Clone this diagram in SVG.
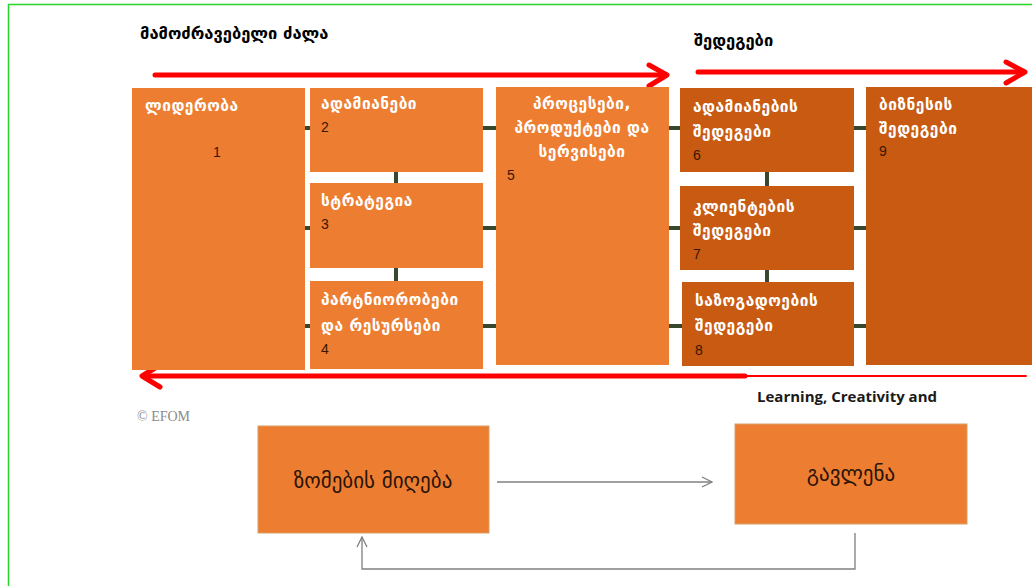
<svg xmlns="http://www.w3.org/2000/svg" width="1032" height="586" viewBox="0 0 1032 586">
<defs>
<marker id="grayhead" viewBox="0 0 12 12" refX="11" refY="6" markerWidth="12" markerHeight="12" markerUnits="userSpaceOnUse" orient="auto">
<path d="M1,1 L11,6 L1,11" fill="none" stroke="#7f7f7f" stroke-width="1.3"/>
</marker>
</defs>
<style>
.lt{fill:#ED7D31}
.dk{fill:#C85A12}
.wt{font-family:"DejaVu Sans",sans-serif;font-weight:bold;font-size:15.5px;letter-spacing:0.5px;fill:#ffffff}
.num{font-family:"Liberation Sans",Arial,sans-serif;font-size:14px;fill:#3a1600}
.hd{font-family:"DejaVu Sans",sans-serif;font-weight:bold;font-size:16.5px;fill:#000}
.con{stroke:#37492c;stroke-width:4;fill:none}
.red{stroke:#ff0000;fill:none;stroke-linecap:round;stroke-linejoin:round}
.big{font-family:"DejaVu Sans",sans-serif;font-size:21px;fill:#2b1408;text-anchor:middle}
.gl{stroke:#808080;stroke-width:1.3;fill:none}
</style>
<rect width="1032" height="586" fill="#ffffff"/>
<path d="M8.5,586 L8.5,4.5 L1032,4.5" fill="none" stroke="#2ad42a" stroke-width="1.5"/>

<text class="hd" x="140" y="39">მამოძრავებელი ძალა</text>
<text class="hd" x="694" y="46">შედეგები</text>

<g id="connectors">
<line class="con" x1="305" y1="128" x2="310" y2="128"/>
<line class="con" x1="305" y1="228" x2="310" y2="228"/>
<line class="con" x1="305" y1="326" x2="310" y2="326"/>
<line class="con" x1="396" y1="172" x2="396" y2="183"/>
<line class="con" x1="396" y1="268" x2="396" y2="281"/>
<line class="con" x1="483" y1="128" x2="496" y2="128"/>
<line class="con" x1="483" y1="228" x2="496" y2="228"/>
<line class="con" x1="483" y1="326" x2="496" y2="326"/>
<line class="con" x1="669" y1="128" x2="680" y2="128"/>
<line class="con" x1="669" y1="228" x2="680" y2="228"/>
<line class="con" x1="669" y1="326" x2="682" y2="326"/>
<line class="con" x1="767" y1="172" x2="767" y2="186"/>
<line class="con" x1="767" y1="270" x2="767" y2="282"/>
<line class="con" x1="854" y1="128" x2="866" y2="128"/>
<line class="con" x1="854" y1="228" x2="866" y2="228"/>
<line class="con" x1="854" y1="326" x2="866" y2="326"/>
<line class="gl" x1="497" y1="482" x2="712" y2="482" marker-end="url(#grayhead)"/>
<path class="gl" d="M855,533 L855,569 L362,569 L362,537" marker-end="url(#grayhead)"/>
</g>

<g id="arrows">
<line class="red" x1="155" y1="75" x2="666" y2="75" stroke-width="5"/>
<path class="red" d="M649,65 L667,75 L649,86" stroke-width="5"/>
<line class="red" x1="698" y1="72" x2="1024" y2="72" stroke-width="5"/>
<path class="red" d="M1006,62 L1025,72 L1006,83" stroke-width="5"/>
<line class="red" x1="745" y1="376" x2="1026" y2="376" stroke-width="2"/>
<line class="red" x1="143" y1="376" x2="745" y2="376" stroke-width="5"/>
<path class="red" d="M160,365 L142,376 L160,387" stroke-width="5"/>
</g>

<g id="n1"><rect class="lt" x="132" y="88" width="173" height="282"/>
<text class="wt" x="145" y="111">ლიდერობა</text><text class="num" x="213" y="157">1</text></g>
<g id="n2"><rect class="lt" x="310" y="88" width="173" height="84"/>
<text class="wt" x="321" y="109">ადამიანები</text><text class="num" x="321" y="132">2</text></g>
<g id="n3"><rect class="lt" x="310" y="183" width="173" height="85"/>
<text class="wt" x="321" y="206">სტრატეგია</text><text class="num" x="321" y="229">3</text></g>
<g id="n4"><rect class="lt" x="310" y="281" width="173" height="88"/>
<text class="wt" x="321" y="305">პარტნიორობები</text><text class="wt" x="321" y="331">და რესურსები</text><text class="num" x="321" y="354">4</text></g>
<g id="n5"><rect class="lt" x="496" y="87" width="173" height="278"/>
<text class="wt" x="582" y="109" text-anchor="middle">პროცესები,</text><text class="wt" x="582" y="133" text-anchor="middle">პროდუქტები და</text><text class="wt" x="582" y="157" text-anchor="middle">სერვისები</text><text class="num" x="507" y="180">5</text></g>
<g id="n6"><rect class="dk" x="680" y="88" width="174" height="84"/>
<text class="wt" x="693" y="112">ადამიანების</text><text class="wt" x="693" y="137">შედეგები</text><text class="num" x="693" y="160">6</text></g>
<g id="n7"><rect class="dk" x="680" y="186" width="174" height="84"/>
<text class="wt" x="693" y="212">კლიენტების</text><text class="wt" x="693" y="236">შედეგები</text><text class="num" x="693" y="259">7</text></g>
<g id="n8"><rect class="dk" x="682" y="282" width="172" height="84"/>
<text class="wt" x="695" y="306">საზოგადოების</text><text class="wt" x="695" y="331">შედეგები</text><text class="num" x="695" y="355">8</text></g>
<g id="n9"><rect class="dk" x="866" y="87" width="166" height="278"/>
<text class="wt" x="879" y="110">ბიზნესის</text><text class="wt" x="879" y="134">შედეგები</text><text class="num" x="879" y="156">9</text></g>

<text x="757" y="402" font-family="'Open Sans',sans-serif" font-weight="bold" font-size="15" fill="#1a1a1a">Learning, Creativity and</text>
<text x="137" y="421" font-family="'Liberation Serif',serif" font-size="14" fill="#8a8a8a">© EFOM</text>

<g id="nA"><rect class="lt" x="258" y="426" width="231" height="107" stroke="#d9a066" stroke-width="1"/>
<text class="big" x="373" y="488">ზომების მიღება</text></g>
<g id="nB"><rect class="lt" x="735" y="424" width="232" height="100" stroke="#d9a066" stroke-width="1"/>
<text class="big" x="851" y="481">გავლენა</text></g>
</svg>
